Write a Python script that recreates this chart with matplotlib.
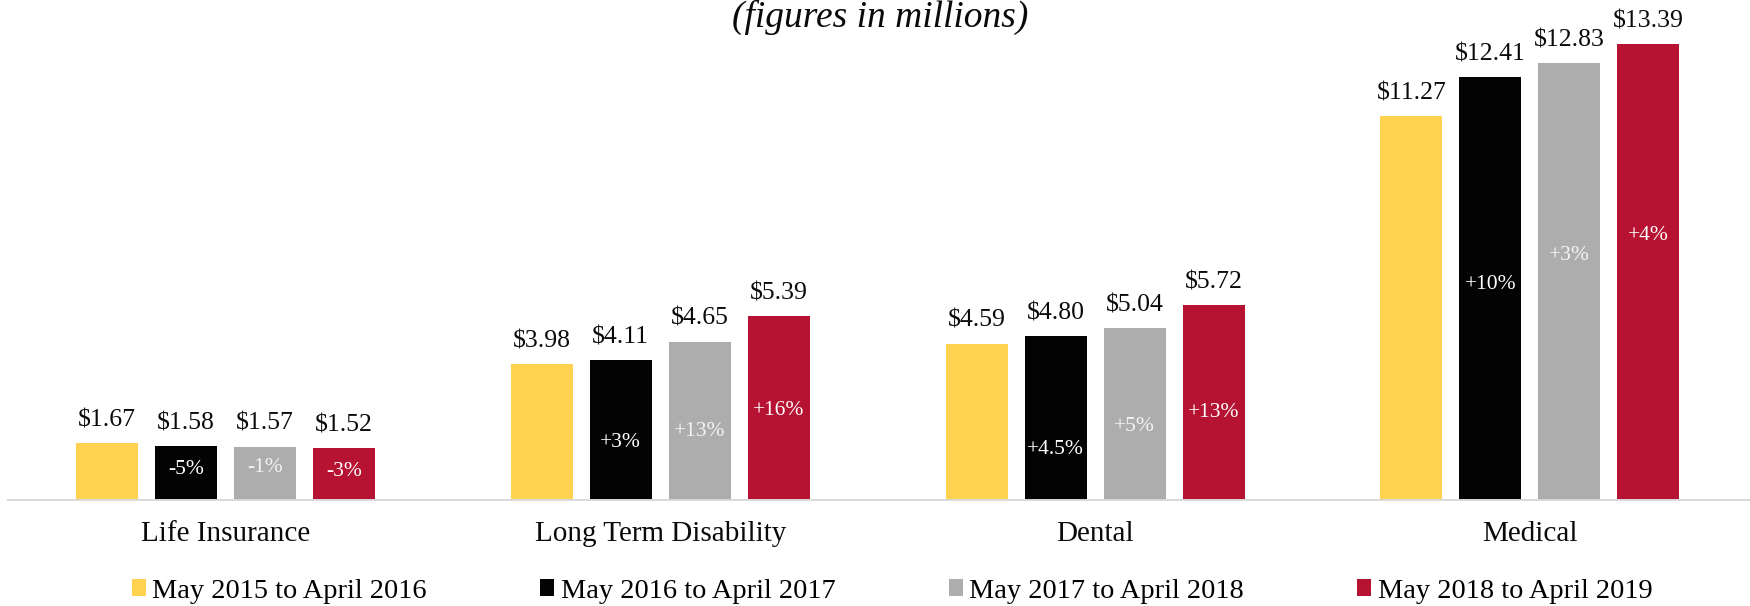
"""Grouped bar chart of benefit costs by plan year."""
import matplotlib

matplotlib.use("Agg")

import matplotlib.pyplot as plt
import numpy as np
from matplotlib.patches import Patch

plt.rcParams["font.family"] = ["Liberation Serif", "DejaVu Serif"]

categories = ["Life Insurance", "Long Term Disability", "Dental", "Medical"]
periods = [
    "May 2015 to April 2016",
    "May 2016 to April 2017",
    "May 2017 to April 2018",
    "May 2018 to April 2019",
]
# cost per period, one list per plan year (millions of dollars)
costs_2016 = [1.67, 3.98, 4.59, 11.27]
costs_2017 = [1.58, 4.11, 4.80, 12.41]
costs_2018 = [1.57, 4.65, 5.04, 12.83]
costs_2019 = [1.52, 5.39, 5.72, 13.39]
# year-over-year change shown inside the bars (none for the first year)
change_2017 = ["-5%", "+3%", "+4.5%", "+10%"]
change_2018 = ["-1%", "+13%", "+5%", "+3%"]
change_2019 = ["-3%", "+16%", "+13%", "+4%"]

series = [costs_2016, costs_2017, costs_2018, costs_2019]
changes = [None, change_2017, change_2018, change_2019]
colors = ["#FFD34F", "#030303", "#ADADAD", "#B61333"]
change_colors = [None, "#FFFFFF", "#F4F4F4", "#FFFFFF"]
# height of each change label as a fraction of its bar
change_pos = [
    None,
    [0.57, 0.41, 0.31, 0.51],
    [0.60, 0.43, 0.43, 0.56],
    [0.55, 0.49, 0.45, 0.58],
]

fig = plt.figure(figsize=(17.5, 6.06), dpi=100)
ax = fig.add_axes([8 / 1750, 106 / 606, 1742 / 1750, 494 / 606])

x = np.arange(len(categories))
step = 0.1817
width = 0.1426
for i, (values, color) in enumerate(zip(series, colors)):
    pos = x + (i - 1.5) * step
    bars = ax.bar(pos, values, width=width, color=color, zorder=2)
    for bar, value in zip(bars, values):
        ax.annotate(
            f"${value:.2f}",
            (bar.get_x() + bar.get_width() / 2, value),
            xytext=(0, 12),
            textcoords="offset points",
            ha="center",
            va="baseline",
            fontsize=18.5,
            color="#0A0A0A",
        )
    if changes[i] is not None:
        for bar, value, label, frac in zip(bars, values, changes[i], change_pos[i]):
            ax.text(
                bar.get_x() + bar.get_width() / 2,
                value * frac,
                label,
                ha="center",
                va="center",
                fontsize=15.5,
                color=change_colors[i],
            )

ax.set_xlim(-0.5, 3.506)
ax.set_ylim(0, 14.5)
ax.set_xticks(x)
ax.set_xticklabels(categories, fontsize=21, color="#0A0A0A")
ax.tick_params(axis="x", length=0, pad=15)
ax.set_yticks([])
for side in ["top", "right", "left"]:
    ax.spines[side].set_visible(False)
ax.spines["bottom"].set_color("#D9D9D9")
ax.spines["bottom"].set_linewidth(1.4)

fig.text(
    880 / 1750,
    1 - 17 / 606,
    "(figures in millions)",
    ha="center",
    va="center",
    fontsize=27,
    style="italic",
    color="#0A0A0A",
)

handles = [Patch(facecolor=c, edgecolor="none") for c in colors]
fig.legend(
    handles,
    periods,
    loc="center",
    bbox_to_anchor=(892 / 1750, 1 - 591 / 606),
    ncol=4,
    frameon=False,
    fontsize=20.4,
    handlelength=0.5,
    handleheight=0.5,
    handletextpad=0.22,
    columnspacing=4.0,
)

fig.savefig("out.png", dpi=100, facecolor="white")
